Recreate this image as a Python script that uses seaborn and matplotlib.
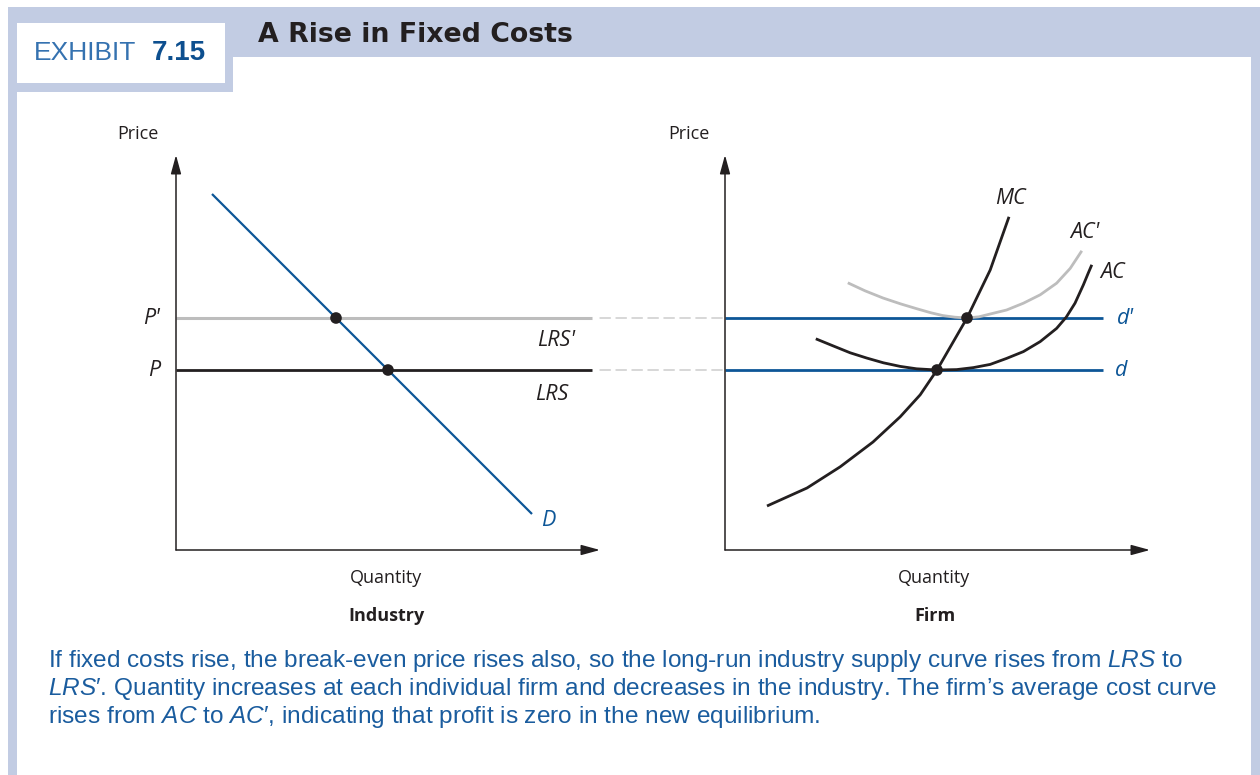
import matplotlib
matplotlib.use("Agg")
import matplotlib.pyplot as plt
from matplotlib.patches import Rectangle, ConnectionPatch
import seaborn as sns

# ---- data (price / quantity units) ----
# Industry panel
ind_demand_q = [0.9, 8.9]
ind_demand_p = [8.9, 0.9]
price_old = 4.5   # P  / LRS
price_new = 5.8   # P' / LRS'
lrs_q = [0.0, 10.4]
ind_eq_q = [5.3, 4.0]
ind_eq_p = [4.5, 5.8]

# Firm panel
mc_q = [1.05, 2.05, 2.88, 3.7, 4.38, 4.88, 5.3, 6.05, 6.63, 7.1]
mc_p = [1.1, 1.55, 2.08, 2.7, 3.33, 3.88, 4.5, 5.8, 7.0, 8.33]
ac_q = [2.27, 2.71, 3.13, 3.54, 3.96, 4.38, 4.79, 5.3, 5.79, 6.21,
        6.63, 7.04, 7.46, 7.88, 8.29, 8.53, 8.75, 8.96, 9.08, 9.17]
ac_p = [5.28, 5.1, 4.93, 4.8, 4.68, 4.59, 4.53, 4.5, 4.51, 4.56,
        4.64, 4.79, 4.96, 5.21, 5.54, 5.82, 6.17, 6.63, 6.92, 7.13]
ac2_q = [3.07, 3.5, 3.95, 4.4, 4.8, 5.15, 5.45, 5.75, 6.05, 6.35,
         6.63, 7.04, 7.46, 7.88, 8.29, 8.63, 8.92]
ac2_p = [6.68, 6.48, 6.3, 6.15, 6.03, 5.93, 5.86, 5.82, 5.8, 5.83,
         5.9, 6.0, 6.17, 6.38, 6.67, 7.04, 7.48]
firm_d_q = [0.0, 9.45]
firm_eq_q = [5.3, 6.05]
firm_eq_p = [4.5, 5.8]

caption_lines = [
    r"If fixed costs rise, the break-even price rises also, so the long-run industry supply curve rises from $\mathit{LRS}$ to",
    r"$\mathit{LRS}$′. Quantity increases at each individual firm and decreases in the industry. The firm’s average cost curve",
    r"rises from $\mathit{AC}$ to $\mathit{AC}$′, indicating that profit is zero in the new equilibrium.",
]

BLUE = "#0d5697"
GRAY = "#bdbdbd"
INK = "#231f20"
FRAME = "#c2cce3"
TEXT_BLUE = "#1a5c9e"

sns.set_theme(style="white")
plt.rcParams["font.family"] = ["Open Sans", "DejaVu Sans"]
plt.rcParams["mathtext.fontset"] = "custom"
plt.rcParams["mathtext.rm"] = "Liberation Sans"
plt.rcParams["mathtext.it"] = "Liberation Sans:italic"

W, H = 1260, 775
fig = plt.figure(figsize=(W / 100, H / 100), dpi=100)
fig.patch.set_facecolor("white")


def px_axes(x0, y0, x1, y1, **kw):
    return fig.add_axes([x0 / W, 1 - y1 / H, (x1 - x0) / W, (y1 - y0) / H], **kw)


# ---- frame / header / caption (pixel space) ----
bg = px_axes(0, 0, W, H, zorder=0)
bg.set_xlim(0, W)
bg.set_ylim(H, 0)
bg.axis("off")
bg.add_patch(Rectangle((8, 7), W - 8, H - 7, color=FRAME, lw=0))
bg.add_patch(Rectangle((17, 92), 1234, H - 92, color="white", lw=0))
bg.add_patch(Rectangle((233, 57), 1018, 40, color="white", lw=0))
bg.add_patch(Rectangle((17, 23), 208, 60, color="white", lw=0))
bg.text(34, 53, "EXHIBIT", family="Liberation Sans", fontsize=19,
        color="#3572b0", ha="left", va="center")
bg.text(152, 53, "7.15", family="Liberation Sans", fontsize=20,
        fontweight="bold", color="#0d4f8f", ha="left", va="center")
bg.text(258, 35, "A Rise in Fixed Costs", family="DejaVu Sans", fontsize=19.3,
        fontweight="bold", color=INK, ha="left", va="center")
for i, line in enumerate(caption_lines):
    bg.text(48, 661 + 28 * i, line, family=["Liberation Sans", "DejaVu Sans"],
            fontsize=17.6, color=TEXT_BLUE, ha="left", va="center")

# ---- panels ----
ax1 = px_axes(176, 155, 600, 550, zorder=2)
ax2 = px_axes(725, 155, 1150, 550, zorder=2)
ax1.set_xlim(0, 10.6)
ax2.set_xlim(0, 10.625)
for ax in (ax1, ax2):
    ax.set_ylim(0, 9.875)
    ax.set_facecolor("none")
    for s in ax.spines.values():
        s.set_visible(False)
    ax.set_xticks([])
    ax.set_yticks([])
    ax.set_xlabel("")
    ax.set_ylabel("")
    arrow = dict(arrowstyle="-|>,head_length=0.95,head_width=0.26", color=INK,
                 lw=1.1, shrinkA=0, shrinkB=0)
    ax.annotate("", xy=(0, 1), xytext=(0, 0), xycoords="axes fraction",
                arrowprops=arrow)
    ax.annotate("", xy=(1, 0), xytext=(0, 0), xycoords="axes fraction",
                arrowprops=arrow)

lab = dict(fontsize=13, color=INK, ha="center", va="center")
it = dict(fontsize=15.5, style="italic", ha="center", va="center")
curve = dict(sort=False, estimator=None, solid_joinstyle="round",
             solid_capstyle="butt")

# Industry
sns.lineplot(x=lrs_q, y=[price_new] * 2, ax=ax1, color=GRAY, lw=2.2, **curve)
sns.lineplot(x=lrs_q, y=[price_old] * 2, ax=ax1, color=INK, lw=2.0, **curve)
sns.lineplot(x=ind_demand_q, y=ind_demand_p, ax=ax1, color=BLUE, lw=1.6, **curve)
sns.scatterplot(x=ind_eq_q, y=ind_eq_p, ax=ax1, color=INK, s=70,
                edgecolor="none", zorder=5)
ax1.text(-0.4, price_new, "P'", color=INK, **{**it, "ha": "right"})
ax1.text(-0.4, price_old, "P", color=INK, **{**it, "ha": "right"})
ax1.text(9.5, 5.25, "LRS'", color=INK, **it)
ax1.text(9.4, 3.9, "LRS", color=INK, **it)
ax1.text(9.3, 0.73, "D", color=BLUE, **it)
ax1.text(-0.95, 10.4, "Price", **lab)
ax1.text(5.25, -0.7, "Quantity", **lab)
ax1.text(5.25, -1.65, "Industry", fontweight="bold", **lab)

# Firm
sns.lineplot(x=firm_d_q, y=[price_new] * 2, ax=ax2, color=BLUE, lw=2.0, **curve)
sns.lineplot(x=firm_d_q, y=[price_old] * 2, ax=ax2, color=BLUE, lw=2.0, **curve)
sns.lineplot(x=ac2_q, y=ac2_p, ax=ax2, color=GRAY, lw=2.0, **curve)
sns.lineplot(x=ac_q, y=ac_p, ax=ax2, color=INK, lw=2.0, **curve)
sns.lineplot(x=mc_q, y=mc_p, ax=ax2, color=INK, lw=2.0, **curve)
sns.scatterplot(x=firm_eq_q, y=firm_eq_p, ax=ax2, color=INK, s=70,
                edgecolor="none", zorder=5)
ax2.text(7.125, 8.775, "MC", color=INK, **it)
ax2.text(9.0, 7.925, "AC'", color=INK, **it)
ax2.text(9.7, 6.925, "AC", color=INK, **it)
ax2.text(10.0, price_new, "d'", color=BLUE, **it)
ax2.text(9.9, price_old, "d", color=BLUE, **it)
ax2.text(-0.9, 10.4, "Price", **lab)
ax2.text(5.225, -0.7, "Quantity", **lab)
ax2.text(5.25, -1.65, "Firm", fontweight="bold", **lab)

# dashed links between the panels
for p in (price_new, price_old):
    con = ConnectionPatch(xyA=(lrs_q[1] + 0.2, p), coordsA=ax1.transData,
                          xyB=(0, p), coordsB=ax2.transData,
                          color="#c8c8c8", lw=1.0, linestyle=(0, (7.5, 4)))
    fig.add_artist(con)

for ax in (ax1, ax2):
    leg = ax.get_legend()
    if leg is not None:
        leg.remove()

fig.savefig("out.png", dpi=100, facecolor="white")
